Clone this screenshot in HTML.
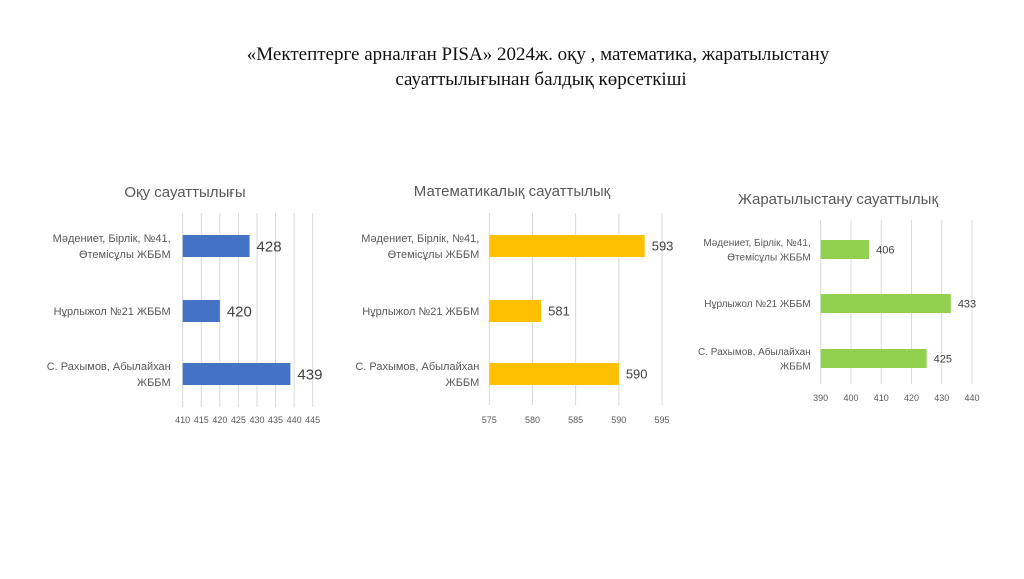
<!DOCTYPE html>
<html><head><meta charset="utf-8">
<style>
body{margin:0;background:#fff;width:1024px;height:574px;overflow:hidden;font-family:"Liberation Sans",sans-serif}
svg text{font-family:"Liberation Sans","DejaVu Sans",sans-serif}
</style></head>
<body>
<svg id="s" width="1024" height="574">
<text x="538" y="60" text-anchor="middle" font-size="19" fill="#111" style="font-family:'Liberation Serif',serif">«Мектептерге арналған PISA» 2024ж. оқу , математика, жаратылыстану</text>
<text x="541" y="85" text-anchor="middle" font-size="19" fill="#111" style="font-family:'Liberation Serif',serif">сауаттылығынан балдық көрсеткіші</text>
</svg>
<script>
const categories=[["Мәдениет, Бірлік, №41,","Өтемісұлы ЖББМ"],["Нұрлыжол №21 ЖББМ"],["С. Рахымов, Абылайхан","ЖББМ"]];
const readingValues=[428,420,439];
const mathValues=[593,581,590];
const scienceValues=[406,433,425];
const readingTicks=[410,415,420,425,430,435,440,445];
const mathTicks=[575,580,585,590,595];
const scienceTicks=[390,400,410,420,430,440];
const svg=document.getElementById('s');const NS='http://www.w3.org/2000/svg';
function mk(t,a,txt){const e=document.createElementNS(NS,t);for(const k in a)e.setAttribute(k,a[k]);if(txt!==undefined)e.textContent=txt;svg.appendChild(e);return e;}
function chart(cfg){
 const {ticks,vals,x0,x1,top,bot,barY,barH,tickY,color,title,titleX,titleY,fs,vfs,lfs,key,lgap}=cfg;
 const min=ticks[0],max=ticks[ticks.length-1];
 const sx=v=>x0+(v-min)/(max-min)*(x1-x0);
 let t=mk('text',{x:titleX,y:titleY,'text-anchor':'middle','font-size':fs,fill:'#595959'},title);
 
 
 ticks.forEach(v=>{
  let l=mk('line',{x1:sx(v),x2:sx(v),y1:top,y2:bot,stroke:'#d9d9d9','stroke-width':1});
  
  
  let tt=mk('text',{x:sx(v),y:tickY,'text-anchor':'middle','font-size':9,fill:'#595959'},v);
  
  
 });
 vals.forEach((v,i)=>{
  const y=barY[i];
  let r=mk('rect',{x:x0,y:y,width:sx(v)-x0,height:barH,fill:color});
  
  
  let vt=mk('text',{x:sx(v)+7,y:y+barH/2+vfs*0.36,'font-size':vfs,fill:'#404040'},v);
  
  
  const lines=categories[i];const lh=lfs*1.45;
  lines.forEach((s,j)=>{
   let c=mk('text',{x:x0-lgap,y:y+barH/2+lfs*0.36+(j-(lines.length-1)/2)*lh,'text-anchor':'end','font-size':lfs,fill:'#595959'},s);
   
   
  });
 });
}
chart({key:'reading',lgap:12,ticks:readingTicks,vals:readingValues,x0:182.7,x1:312.7,top:213,bot:407,barY:[235,300,363],barH:22,tickY:423,color:'#4472c4',title:'Оқу сауаттылығы',titleX:185,titleY:197,fs:15,vfs:15,lfs:11});
chart({key:'math',lgap:10,ticks:mathTicks,vals:mathValues,x0:489.3,x1:662,top:213,bot:405,barY:[235,300,363],barH:22,tickY:423,color:'#ffc000',title:'Математикалық сауаттылық',titleX:512,titleY:196,fs:15,vfs:13,lfs:11});
chart({key:'science',lgap:10,ticks:scienceTicks,vals:scienceValues,x0:820.7,x1:972,top:220,bot:384,barY:[240,294,349],barH:19,tickY:401,color:'#92d050',title:'Жаратылыстану сауаттылық',titleX:838,titleY:204,fs:15,vfs:11,lfs:10});
</script>
</body></html>
